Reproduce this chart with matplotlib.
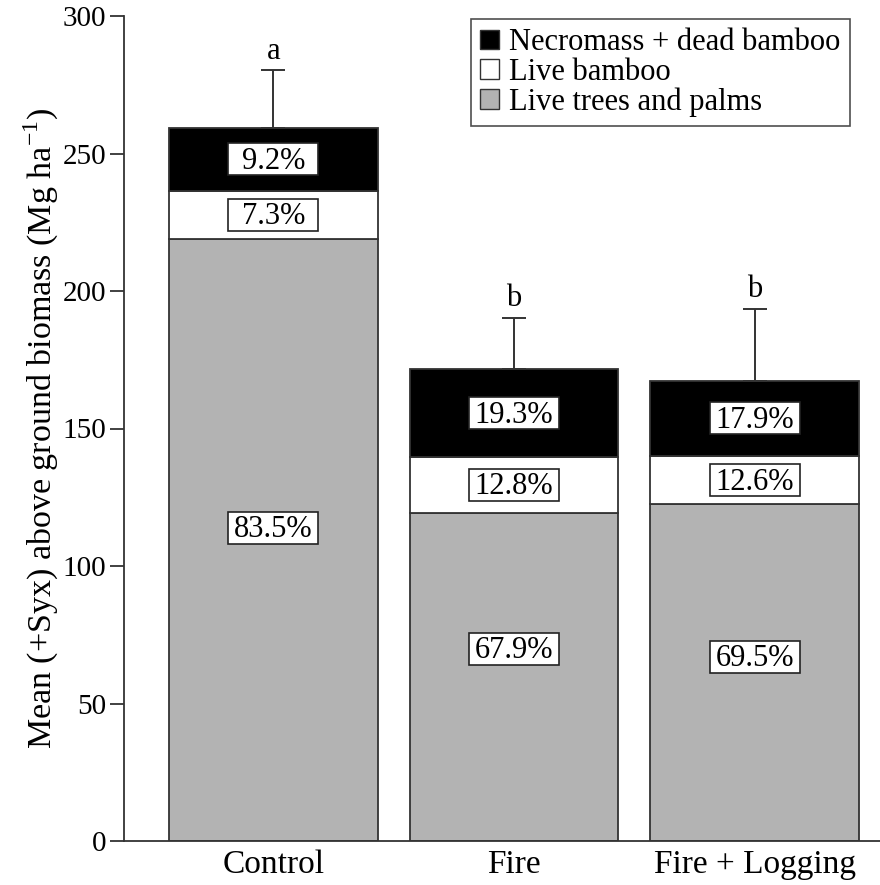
import numpy as np
import matplotlib
matplotlib.use("Agg")
import matplotlib.pyplot as plt
import matplotlib.transforms as mtransforms
from matplotlib.patches import Patch, Rectangle

plt.rcParams['font.family'] = ['Liberation Serif', 'DejaVu Serif']

# data (Mg ha-1)
groups = ["Control", "Fire", "Fire + Logging"]
live_trees = [218.9, 119.4, 122.5]
live_bamboo = [17.6, 20.2, 17.6]
necromass = [22.9, 32.1, 27.2]
err_top = [280.2, 190.3, 193.6]
letters = ["a", "b", "b"]

pct_trees = ["83.5%", "67.9%", "69.5%"]
pct_bamboo = ["7.3%", "12.8%", "12.6%"]
pct_necro = ["9.2%", "19.3%", "17.9%"]
trees_label_y = [114, 70, 67]

edge = "#333333"
x = np.arange(len(groups))
w = 0.867
tot = np.array(live_trees) + np.array(live_bamboo) + np.array(necromass)

fig = plt.figure(figsize=(8.8, 8.85), dpi=100)
ax = fig.add_axes([124 / 880, 44 / 885, 1 - 124 / 880, 825 / 885])

ax.bar(x, live_trees, w, color="#b3b3b3", edgecolor=edge, linewidth=1.3)
ax.bar(x, live_bamboo, w, bottom=live_trees, color="white", edgecolor=edge, linewidth=1.3)
bottom2 = np.array(live_trees) + np.array(live_bamboo)
ax.bar(x, necromass, w, bottom=bottom2, color="black", edgecolor=edge, linewidth=1.3)

# upward error bars only
ax.errorbar(x, tot, yerr=[np.zeros(3), np.array(err_top) - tot], fmt="none",
            ecolor=edge, elinewidth=1.4, capsize=8.5, capthick=1.4)

for i in range(3):
    ax.annotate(letters[i], (x[i], err_top[i]), xytext=(0, 8.5), textcoords="offset points",
                ha="center", va="baseline", fontsize=22)


def pct_box(xc, yc, s):
    # fixed size white box (pixels) centred on the data point
    tr = mtransforms.ScaledTranslation(xc, yc, ax.transData)
    ax.add_patch(Rectangle((-45, -16), 90, 32, transform=tr, fc="white",
                           ec="#222222", lw=1.2, zorder=3))
    ax.annotate(s, (xc, yc), xytext=(0, -1.5), textcoords="offset points",
                ha="center", va="center", fontsize=22, zorder=4)


for i in range(3):
    pct_box(x[i], trees_label_y[i], pct_trees[i])
    pct_box(x[i], live_trees[i] + live_bamboo[i] / 2, pct_bamboo[i])
    pct_box(x[i], bottom2[i] + necromass[i] / 2, pct_necro[i])

ax.set_xlim(-0.62, 2.52)
ax.set_ylim(0, 300)
ax.set_yticks(range(0, 301, 50))
ax.set_xticks(x)
ax.set_xticklabels(groups, fontsize=24)
ax.tick_params(axis="y", length=10, width=1.3, color=edge, labelsize=21, pad=3)
ax.tick_params(axis="x", length=0, pad=6)
for s in ["top", "right"]:
    ax.spines[s].set_visible(False)
for s in ["left", "bottom"]:
    ax.spines[s].set_color(edge)
    ax.spines[s].set_linewidth(1.3)

ax.set_ylabel("Mean (+Syx) above ground biomass (Mg ha$^{\\mathregular{-1}}$)", fontsize=24.5, labelpad=1)

handles = [Patch(fc="black", ec=edge), Patch(fc="white", ec=edge), Patch(fc="#b3b3b3", ec=edge)]
leg = ax.legend(handles, ["Necromass + dead bamboo", "Live bamboo", "Live trees and palms"],
                loc="upper right", bbox_to_anchor=(0.9603, 0.9964),
                fontsize=22, frameon=True, fancybox=False, handlelength=0.6, handleheight=0.6,
                handletextpad=0.35, borderpad=0.3, labelspacing=0.02, borderaxespad=0)
leg.get_frame().set_edgecolor("#222222")
leg.get_frame().set_linewidth(1.2)

fig.savefig("out.png", dpi=100)
